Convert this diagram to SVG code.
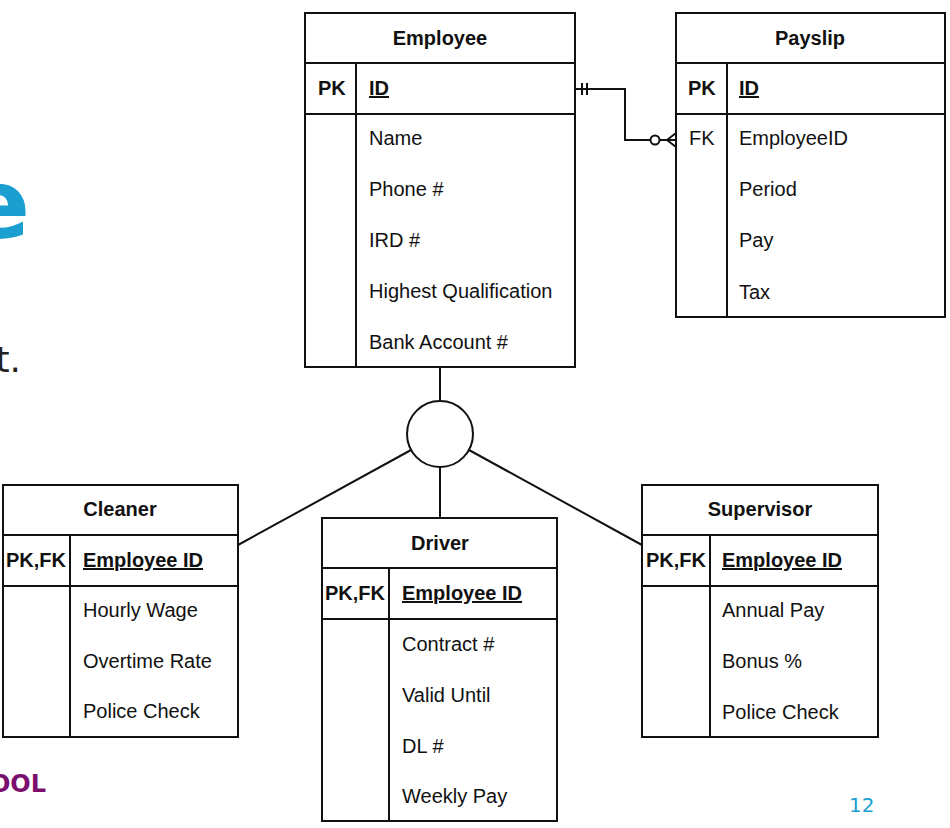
<svg xmlns="http://www.w3.org/2000/svg" width="950" height="828" viewBox="0 0 950 828">
<style>
.box{fill:#fff;stroke:#111;stroke-width:2}
.ln{fill:none;stroke:#111;stroke-width:2}
.t{font-family:"Liberation Sans",Arial,sans-serif;font-size:20px;fill:#111}
.b{font-weight:bold}
.c{text-anchor:middle}
.u{text-decoration:underline}
</style>
<rect width="950" height="828" fill="#fff"/>
<text x="-35" y="238" font-family="DejaVu Sans,sans-serif" font-weight="bold" font-size="96" fill="#1b9fd0">e</text>
<text x="21" y="372" text-anchor="end" font-family="DejaVu Sans,sans-serif" font-size="36" fill="#222">t.</text>
<text x="46" y="792" text-anchor="end" font-family="DejaVu Sans,sans-serif" font-weight="bold" font-size="24" fill="#7b0f6e">OOL</text>
<text x="849" y="812" font-family="DejaVu Sans,sans-serif" font-size="20" fill="#1b9fd0">12</text>

<g id="connectors">
<path class="ln" d="M575,89 H625 V140 H650.5"/>
<path class="ln" d="M582,83 V95 M587,83 V95"/>
<circle cx="655" cy="140" r="4.5" class="ln"/>
<path class="ln" d="M659.5,140 H676 M667,140 L676,133 M667,140 L676,147"/>
<path class="ln" d="M440,367 V401 M440,467 V518 M411,450 L238,545 M469,450 L642,545"/>
<circle cx="440" cy="434" r="33" class="ln" fill="#fff"/>
</g>

<g id="employee">
<rect class="box" x="305" y="13" width="270" height="354"/>
<path class="ln" d="M305,63 H575 M305,114 H575 M356,63 V367"/>
<text class="t b c" x="440" y="45">Employee</text>
<text class="t b" x="318" y="95">PK</text>
<text class="t b u" x="369" y="95">ID</text>
<text class="t" x="369" y="145">Name</text>
<text class="t" x="369" y="196">Phone #</text>
<text class="t" x="369" y="247">IRD #</text>
<text class="t" x="369" y="298">Highest Qualification</text>
<text class="t" x="369" y="349">Bank Account #</text>
</g>

<g id="payslip">
<rect class="box" x="676" y="13" width="269" height="304"/>
<path class="ln" d="M676,63 H945 M676,114 H945 M727,63 V317"/>
<text class="t b c" x="810" y="45">Payslip</text>
<text class="t b" x="688" y="95">PK</text>
<text class="t b u" x="739" y="95">ID</text>
<text class="t" x="689" y="145">FK</text>
<text class="t" x="739" y="145">EmployeeID</text>
<text class="t" x="739" y="196">Period</text>
<text class="t" x="739" y="247">Pay</text>
<text class="t" x="739" y="299">Tax</text>
</g>

<g id="cleaner">
<rect class="box" x="3" y="485" width="235" height="252"/>
<path class="ln" d="M3,535 H238 M3,586 H238 M70,535 V737"/>
<text class="t b c" x="120" y="516">Cleaner</text>
<text class="t b c" x="36" y="567">PK,FK</text>
<text class="t b u" x="83" y="567">Employee ID</text>
<text class="t" x="83" y="617">Hourly Wage</text>
<text class="t" x="83" y="668">Overtime Rate</text>
<text class="t" x="83" y="718">Police Check</text>
</g>

<g id="driver">
<rect class="box" x="322" y="518" width="235" height="303"/>
<path class="ln" d="M322,568 H557 M322,619 H557 M389,568 V821"/>
<text class="t b c" x="440" y="550">Driver</text>
<text class="t b c" x="355" y="600">PK,FK</text>
<text class="t b u" x="402" y="600">Employee ID</text>
<text class="t" x="402" y="651">Contract #</text>
<text class="t" x="402" y="702">Valid Until</text>
<text class="t" x="402" y="753">DL #</text>
<text class="t" x="402" y="803">Weekly Pay</text>
</g>

<g id="supervisor">
<rect class="box" x="642" y="485" width="236" height="252"/>
<path class="ln" d="M642,535 H878 M642,586 H878 M710,535 V737"/>
<text class="t b c" x="760" y="516">Supervisor</text>
<text class="t b c" x="676" y="567">PK,FK</text>
<text class="t b u" x="722" y="567">Employee ID</text>
<text class="t" x="722" y="617">Annual Pay</text>
<text class="t" x="722" y="668">Bonus %</text>
<text class="t" x="722" y="719">Police Check</text>
</g>
</svg>
